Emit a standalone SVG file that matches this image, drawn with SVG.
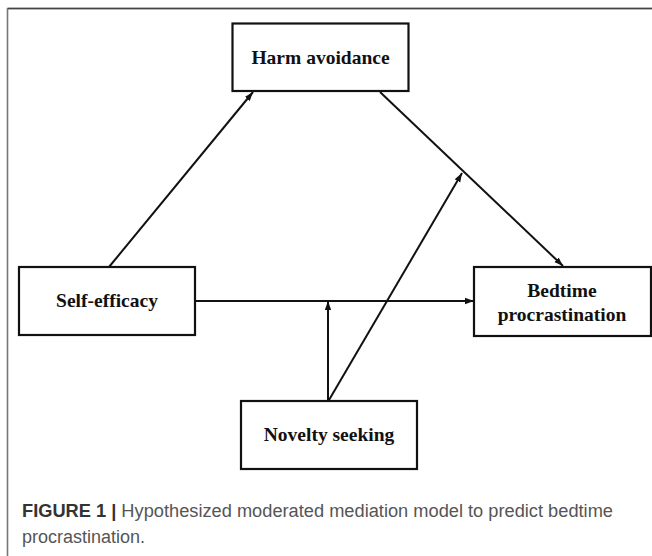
<svg xmlns="http://www.w3.org/2000/svg" width="652" height="556" viewBox="0 0 652 556">
  <style>
    .box { fill: #ffffff; stroke: #111111; stroke-width: 2.2; }
    .lbl { font-family: "Liberation Serif", "Times New Roman", serif; font-weight: bold; font-size: 19.5px; fill: #111111; text-anchor: middle; }
    .edge { stroke: #111111; stroke-width: 2; fill: none; marker-end: url(#arrow); }
    .cap { font-family: "Liberation Sans", Arial, sans-serif; font-size: 18px; fill: #555555; }
  </style>
  <defs>
    <marker id="arrow" markerUnits="userSpaceOnUse" markerWidth="10" markerHeight="8" refX="9" refY="4" orient="auto">
      <path d="M0,0.8 L9,4 L0,7.2 Z" fill="#111111"/>
    </marker>
  </defs>
  <rect x="0" y="0" width="652" height="556" fill="#ffffff"/>
  <g id="frame">
    <path d="M652 8.5 H7.5 V556" fill="none" stroke="#777777" stroke-width="1.6"/>
    <path d="M652 8.5 H8" fill="none" stroke="#444444" stroke-width="1.6"/>
  </g>
  <g id="connectors">
    <line class="edge" x1="109" y1="267" x2="253" y2="92"/>
    <line class="edge" x1="380" y1="92" x2="563" y2="266"/>
    <line class="edge" x1="195" y1="301" x2="474" y2="301"/>
    <line class="edge" x1="328" y1="401" x2="328" y2="301"/>
    <line class="edge" x1="329" y1="400" x2="462" y2="173"/>
  </g>
  <g id="harm-avoidance">
    <rect class="box" x="232.5" y="23.5" width="176" height="67.5"/>
    <text class="lbl" x="320.5" y="64">Harm avoidance</text>
  </g>
  <g id="self-efficacy">
    <rect class="box" x="19" y="267" width="176" height="68"/>
    <text class="lbl" x="107" y="307">Self-efficacy</text>
  </g>
  <g id="bedtime-procrastination">
    <rect class="box" x="474" y="267" width="177" height="69"/>
    <text class="lbl" x="562" y="297">Bedtime</text>
    <text class="lbl" x="562" y="321">procrastination</text>
  </g>
  <g id="novelty-seeking">
    <rect class="box" x="241" y="401" width="176" height="68"/>
    <text class="lbl" x="329" y="441">Novelty seeking</text>
  </g>
  <g id="caption">
    <text class="cap" x="22" y="517" textLength="591" lengthAdjust="spacingAndGlyphs"><tspan font-weight="bold" fill="#333333">FIGURE 1 |</tspan> Hypothesized moderated mediation model to predict bedtime</text>
    <text class="cap" x="22" y="543">procrastination.</text>
  </g>
</svg>
